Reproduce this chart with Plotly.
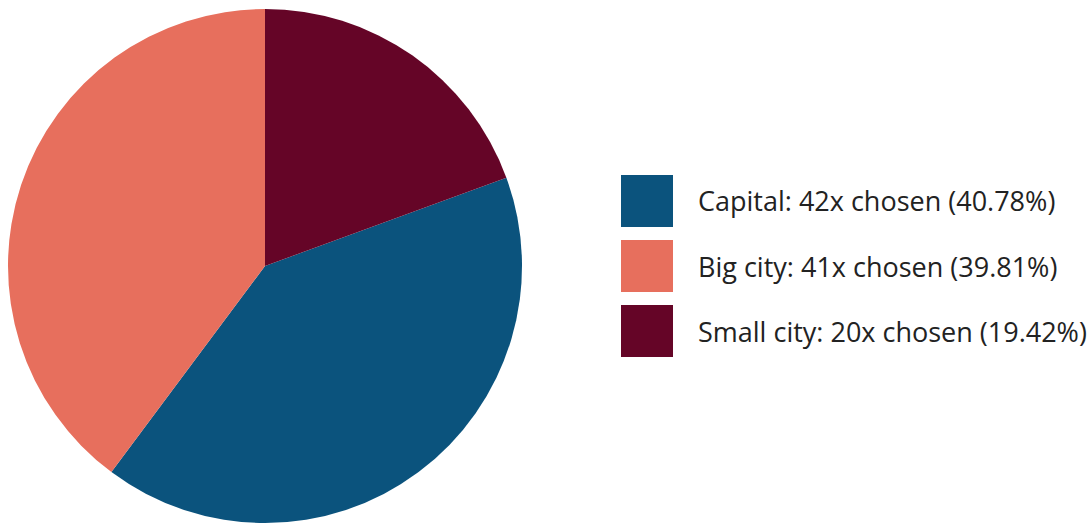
import plotly.graph_objects as go

# Survey answers: which kind of place people would choose
categories = ["Capital", "Big city", "Small city"]
counts = [42, 41, 20]
colors = ["#0B537D", "#E76F5D", "#650527"]

W, H = 1089, 523
total = sum(counts)
percents = [c / total * 100 for c in counts]

# Start the first slice so the last one ends at 12 o'clock
rotation = 360 * counts[-1] / total

fig = go.Figure(
    go.Pie(
        labels=categories,
        values=counts,
        marker=dict(colors=colors, line=dict(width=0)),
        sort=False,
        direction="clockwise",
        rotation=rotation,
        textinfo="none",
        hoverinfo="label+value+percent",
        showlegend=False,
        domain=dict(x=[8 / W, 522 / W], y=[0, 1 - 9 / H]),
    )
)

# Custom legend: large colour squares with descriptive labels
box = 52
gap = 65
top0 = 175
shapes = []
annotations = []
for i, (name, n, pct, col) in enumerate(zip(categories, counts, percents, colors)):
    top = top0 + i * gap
    shapes.append(
        dict(
            type="rect", xref="paper", yref="paper",
            x0=621 / W, x1=(621 + box) / W,
            y0=1 - (top + box) / H, y1=1 - top / H,
            fillcolor=col, line=dict(width=0),
        )
    )
    annotations.append(
        dict(
            xref="paper", yref="paper",
            x=696 / W, y=1 - (top + box / 2) / H,
            xanchor="left", yanchor="middle",
            text=f"{name}: {n}x chosen ({pct:.2f}%)",
            showarrow=False,
            font=dict(family="Open Sans", size=27, color="#222222"),
        )
    )

fig.update_layout(
    width=W, height=H,
    margin=dict(l=0, r=0, t=0, b=0),
    paper_bgcolor="white",
    plot_bgcolor="white",
    shapes=shapes,
    annotations=annotations,
)

fig.write_html("out.html", config={"displayModeBar": False})
